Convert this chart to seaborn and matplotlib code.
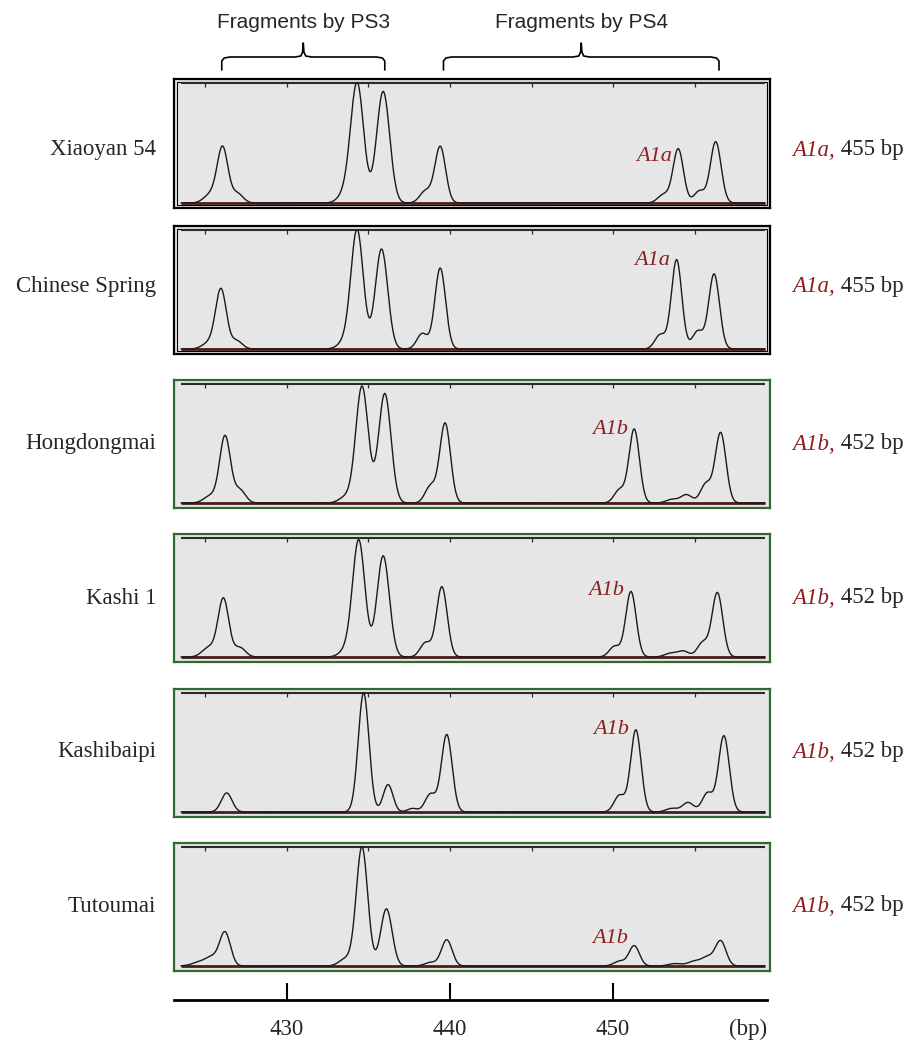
import matplotlib
matplotlib.use("Agg")
import matplotlib.pyplot as plt
import numpy as np
import seaborn as sns
from matplotlib.patches import Rectangle

# ---- data ----
samples = ["Xiaoyan 54", "Chinese Spring", "Hongdongmai", "Kashi 1", "Kashibaipi", "Tutoumai"]
alleles = ["A1a", "A1a", "A1b", "A1b", "A1b", "A1b"]
allele_sizes = [455, 455, 452, 452, 452, 452]
allele_peak = [454.0, 453.9, 451.3, 451.1, 451.4, 451.3]  # peak that carries the allele tag

# peaks per trace: (size bp, relative height, width bp)
xiaoyan54_peaks = [
    (425.3, 0.07, 0.40), (426.05, 0.46, 0.33), (426.95, 0.08, 0.35),
    (433.5, 0.06, 0.40), (434.3, 1.00, 0.40), (435.9, 0.93, 0.40),
    (438.5, 0.10, 0.35), (439.4, 0.47, 0.33),
    (453.1, 0.07, 0.35), (454.0, 0.45, 0.32), (455.3, 0.10, 0.33), (456.3, 0.51, 0.33),
]
chinese_spring_peaks = [
    (425.2, 0.05, 0.40), (425.95, 0.50, 0.33), (426.9, 0.07, 0.35),
    (433.5, 0.05, 0.40), (434.3, 1.00, 0.38), (435.8, 0.84, 0.38),
    (438.3, 0.13, 0.33), (439.4, 0.68, 0.33),
    (452.9, 0.12, 0.33), (453.9, 0.75, 0.32), (455.2, 0.15, 0.33), (456.2, 0.63, 0.33),
]
hongdongmai_peaks = [
    (425.3, 0.06, 0.40), (426.2, 0.56, 0.33), (427.1, 0.11, 0.35),
    (433.6, 0.05, 0.40), (434.6, 0.98, 0.38), (436.0, 0.92, 0.38),
    (438.8, 0.14, 0.33), (439.7, 0.67, 0.33),
    (450.4, 0.11, 0.33), (451.3, 0.62, 0.32),
    (453.6, 0.03, 0.35), (454.5, 0.07, 0.35), (455.7, 0.16, 0.33), (456.6, 0.59, 0.33),
]
kashi1_peaks = [
    (425.2, 0.08, 0.40), (426.1, 0.49, 0.33), (427.1, 0.08, 0.35),
    (433.6, 0.05, 0.40), (434.4, 0.98, 0.38), (435.9, 0.85, 0.38),
    (438.5, 0.12, 0.33), (439.5, 0.59, 0.33),
    (450.1, 0.09, 0.33), (451.1, 0.55, 0.32),
    (453.5, 0.03, 0.35), (454.3, 0.05, 0.35), (455.5, 0.12, 0.33), (456.4, 0.54, 0.33),
]
kashibaipi_peaks = [
    (426.3, 0.16, 0.33),
    (434.7, 1.00, 0.33), (436.2, 0.23, 0.30),
    (437.7, 0.03, 0.30), (438.8, 0.15, 0.33), (439.8, 0.65, 0.33),
    (450.4, 0.14, 0.33), (451.4, 0.69, 0.32),
    (453.6, 0.03, 0.35), (454.6, 0.08, 0.35), (455.8, 0.16, 0.33), (456.8, 0.64, 0.33),
]
tutoumai_peaks = [
    (424.6, 0.03, 0.45), (425.4, 0.07, 0.40), (426.2, 0.28, 0.33),
    (433.6, 0.06, 0.40), (434.6, 1.00, 0.35), (436.1, 0.48, 0.35),
    (438.8, 0.03, 0.35), (439.8, 0.22, 0.33),
    (450.4, 0.04, 0.35), (451.3, 0.17, 0.32),
    (453.8, 0.02, 0.40), (455.0, 0.04, 0.40), (455.8, 0.07, 0.35), (456.6, 0.21, 0.33),
]
peaks = [xiaoyan54_peaks, chinese_spring_peaks, hongdongmai_peaks,
         kashi1_peaks, kashibaipi_peaks, tutoumai_peaks]

scale_ticks = [425, 430, 435, 440, 445, 450, 455]   # ticks on the instrument scale
axis_ticks = [430, 440, 450]                         # size axis at the bottom
ps3_span = (426.0, 436.0)
ps4_span = (439.6, 456.5)

# ---- layout (pixels) ----
W, H = 913, 1043
panel_top = [79, 226, 380, 534, 689, 843]
panel_bot = [208, 354, 508, 662, 817, 971]
label_row = [150, 287, 444, 598, 752, 906]
frame_color = ["black", "black", "#2e6b2e", "#2e6b2e", "#2e6b2e", "#2e6b2e"]
tag_dy = [-0.06, -0.01, 0.0, 0.01, 0.0, 0.06]
xlim = (423.07, 459.63)
inner = (423.5, 459.33)
red = "#8b1f1f"
serif = ["Liberation Serif", "DejaVu Serif"]
sans = ["Liberation Sans", "DejaVu Sans"]


def box(x0, y0, x1, y1):
    return [x0 / W, 1 - y1 / H, (x1 - x0) / W, (y1 - y0) / H]


sns.set_style("white")
plt.rcParams["font.family"] = serif

fig = plt.figure(figsize=(W / 100, H / 100), dpi=100)

xs = np.arange(inner[0], inner[1], 0.01)

for i, name in enumerate(samples):
    top, bot = panel_top[i], panel_bot[i]
    span = bot - top - 9
    ax = fig.add_axes(box(174, top, 770, bot))
    ax.set_facecolor("#e6e6e6")
    ax.set_xlim(*xlim)
    ax.set_ylim(-5 / span, 1 + 4 / span)
    ax.set_xticks([])
    ax.set_yticks([])
    for s in ax.spines.values():
        s.set_color(frame_color[i])
        s.set_linewidth(1.6)
    if frame_color[i] == "black":
        ax.add_patch(Rectangle((3 / 596, 3 / (bot - top)), 1 - 6 / 596, 1 - 6 / (bot - top),
                               transform=ax.transAxes, fill=False, lw=0.8, ec="black"))

    # instrument scale line with ticks, and baseline
    ax.hlines(1.0, *inner, color="#2a2a2a", lw=1.5)
    ax.vlines(scale_ticks, 1.0 - 4 / span, 1.0 + 1 / span, color="#2a2a2a", lw=0.9)
    ax.hlines(0.0, *inner, color="#4b1c1c", lw=2.0)

    trace = np.zeros_like(xs)
    for pos, h, w in peaks[i]:
        trace += h * np.exp(-(xs - pos) ** 2 / (2 * w ** 2))
    trace = np.minimum(trace, 1.0)
    sns.lineplot(x=xs, y=trace, ax=ax, color="#1a1a1a", lw=1.0, estimator=None, sort=False)
    ax.set_xlabel("")
    ax.set_ylabel("")

    # allele tag next to its peak
    p = allele_peak[i]
    hp = min(peaks[i], key=lambda t: abs(t[0] - p))[1]
    ax.text(p - 0.4, hp + tag_dy[i], alleles[i], ha="right", va="center",
            color=red, style="italic", fontsize=16)

    yc = 1 - label_row[i] / H
    fig.text(156 / W, yc, name, ha="right", va="center", fontsize=16.5)
    t1 = fig.text(792 / W, yc, alleles[i] + ",", ha="left", va="center",
                  color=red, style="italic", fontsize=16.5)
    ax.annotate(f" {allele_sizes[i]} bp", xy=(1, 0), xycoords=t1,
                ha="left", va="bottom", fontsize=16.5, annotation_clip=False)

# brackets above the panels
ax_t = fig.add_axes(box(174, 0, 770, 79))
ax_t.set_xlim(*xlim)
ax_t.set_ylim(79, 0)
ax_t.axis("off")
for (a, b), label in [(ps3_span, "Fragments by PS3"), (ps4_span, "Fragments by PS4")]:
    m = (a + b) / 2
    bx = [a, a, a + 0.15, a + 0.5, m - 0.5, m - 0.15, m - 0.04, m,
          m + 0.04, m + 0.15, m + 0.5, b - 0.5, b - 0.15, b, b]
    by = [70, 61, 58, 57, 57, 56, 52, 43, 52, 56, 57, 57, 58, 61, 70]
    ax_t.plot(bx, by, color="black", lw=1.2)
    ax_t.text(m, 23, label, ha="center", va="center", fontsize=15, family=sans)

# size axis at the bottom
ax_b = fig.add_axes(box(174, 975, 767, 1000))
ax_b.set_xlim(xlim[0], 459.45)
ax_b.set_facecolor("none")
for k in ["top", "left", "right"]:
    ax_b.spines[k].set_visible(False)
ax_b.spines["bottom"].set_linewidth(2.0)
ax_b.spines["bottom"].set_color("black")
ax_b.set_yticks([])
ax_b.set_xticks(axis_ticks)
ax_b.set_xticklabels([str(t) for t in axis_ticks])
ax_b.tick_params(axis="x", bottom=True, direction="in", length=12, width=1.5, pad=13.5,
                 labelsize=16.5, color="black")
ax_b.annotate("(bp)", xy=(1, 0), xycoords="axes fraction", xytext=(0, -13.5),
              textcoords="offset points", ha="right", va="top", fontsize=16.5)

fig.savefig("out.png", dpi=100)
